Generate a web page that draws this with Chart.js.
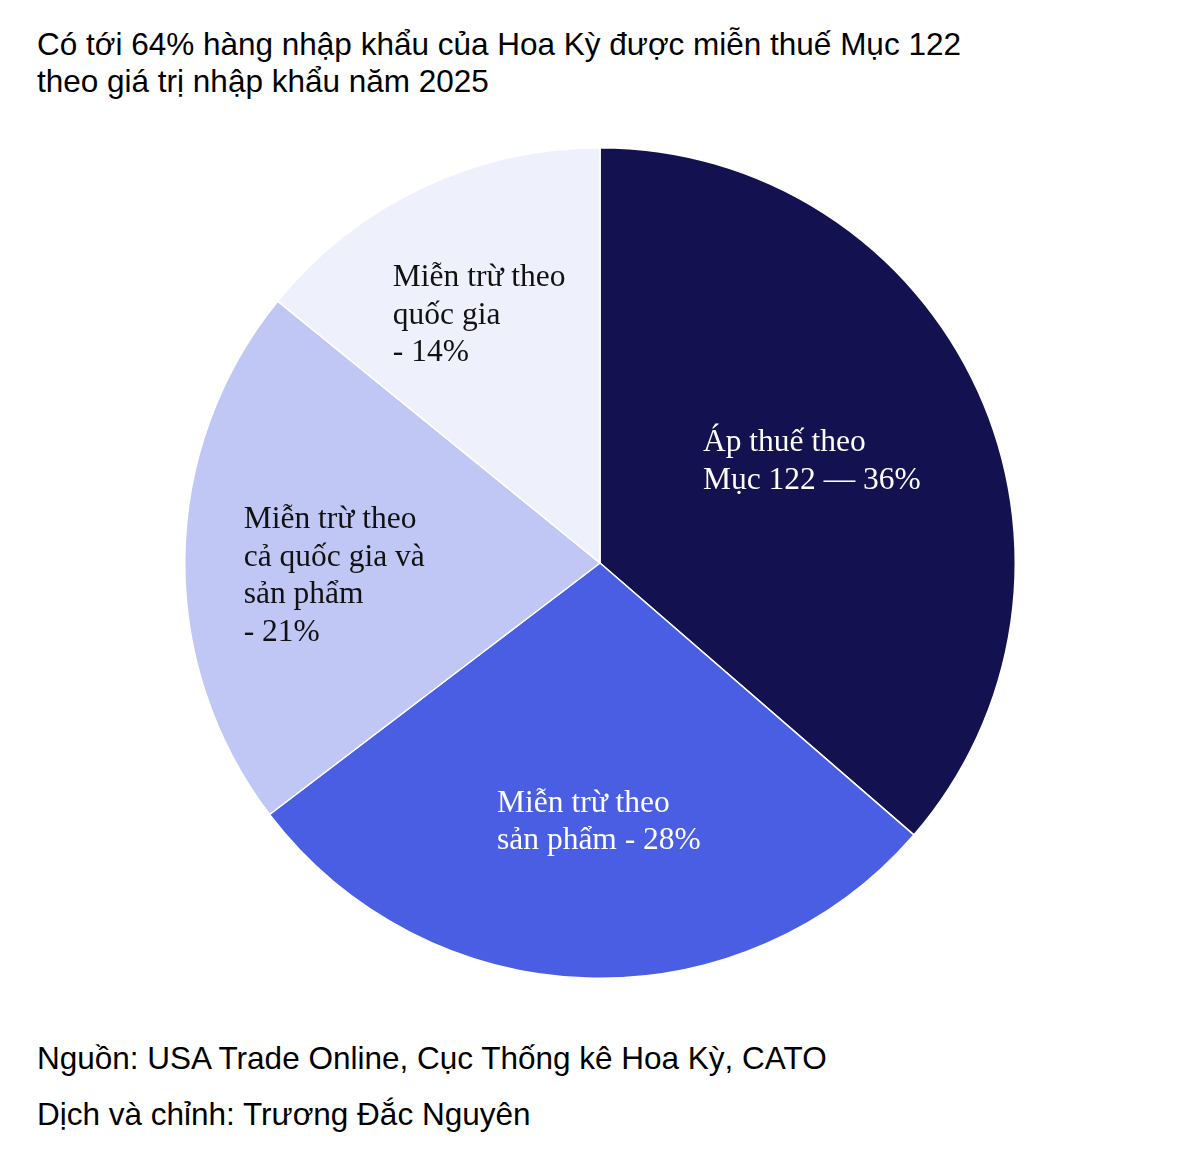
<!DOCTYPE html>
<html>
<head>
<meta charset="utf-8">
<script src="https://cdn.jsdelivr.net/npm/chart.js@4"></script>
<style>
  body { margin: 0; background: #fff; width: 1200px; height: 1149px; position: relative; overflow: hidden; }
  .txt { position: absolute; left: 37px; font-family: "Liberation Sans", Arial, sans-serif; color: #000; white-space: nowrap; }
  #title { top: 26px; font-size: 31.5px; line-height: 36.5px; }
  #source { top: 1040px; font-size: 31.5px; }
  #credit { top: 1096px; font-size: 31.5px; }
  #wrap { position: absolute; left: 184px; top: 147px; width: 832px; height: 832px; }
</style>
</head>
<body>
<div id="title" class="txt">Có tới 64% hàng nhập khẩu của Hoa Kỳ được miễn thuế Mục 122<br>theo giá trị nhập khẩu năm 2025</div>
<div id="wrap"><canvas id="pie"></canvas></div>
<div id="source" class="txt">Nguồn: USA Trade Online, Cục Thống kê Hoa Kỳ, CATO</div>
<div id="credit" class="txt">Dịch và chỉnh: Trương Đắc Nguyên</div>
<script>
// slices, clockwise from 12 o'clock
const categories = ['Áp thuế theo Mục 122', 'Miễn trừ theo sản phẩm', 'Miễn trừ theo cả quốc gia và sản phẩm', 'Miễn trừ theo quốc gia'];
const shares = [36, 28, 21, 14];
const labelLines = [
    ['Áp thuế theo', 'Mục 122 — 36%'],
    ['Miễn trừ theo', 'sản phẩm - 28%'],
    ['Miễn trừ theo', 'cả quốc gia và', 'sản phẩm', '- 21%'],
    ['Miễn trừ theo', 'quốc gia', '- 14%']
];
const colors = ['#13114f', '#4a5ee4', '#c0c7f5', '#eef0fc'];
const textColors = ['#ffffff', '#ffffff', '#111111', '#111111'];

// where each label starts, as a fraction of the radius from the centre (left x, first line y)
const labelAnchors = [[0.248, -0.29], [-0.248, 0.579], [-0.858, -0.104], [-0.499, -0.687]];

const sliceLabels = {
    id: 'sliceLabels',
    afterDatasetsDraw(chart) {
        const ctx = chart.ctx;
        const arc = chart.getDatasetMeta(0).data[0];
        const r = arc.outerRadius;
        ctx.save();
        ctx.font = '31.5px "Liberation Serif", "Times New Roman", serif';
        ctx.textBaseline = 'middle';
        ctx.textAlign = 'left';
        labelLines.forEach((lines, i) => {
            ctx.fillStyle = textColors[i];
            const x = arc.x + labelAnchors[i][0] * r;
            const y = arc.y + labelAnchors[i][1] * r;
            lines.forEach((line, j) => ctx.fillText(line, x, y + j * 37.7));
        });
        ctx.restore();
    }
};

new Chart(document.getElementById('pie'), {
    type: 'pie',
    data: {
        labels: categories,
        datasets: [{
            data: shares,
            backgroundColor: colors,
            borderColor: '#ffffff',
            borderWidth: 1.5
        }]
    },
    options: {
        responsive: true,
        maintainAspectRatio: false,
        animation: false,
        layout: { padding: 0 },
        plugins: {
            legend: { display: false },
            tooltip: { enabled: false },
            title: { display: false }
        }
    },
    plugins: [sliceLabels]
});
</script>
</body>
</html>
